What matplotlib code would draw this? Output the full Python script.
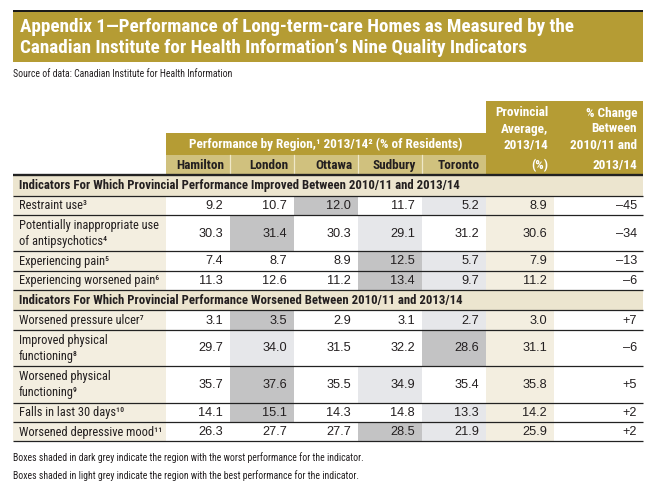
import matplotlib
matplotlib.use('Agg')
import matplotlib.pyplot as plt
from matplotlib import font_manager as fm
from matplotlib.patches import Rectangle

# ---------------- data ----------------
title_lines = ["Appendix 1\u2014Performance of Long-term-care Homes as Measured by the",
               "Canadian Institute for Health Information\u2019s Nine Quality Indicators"]
source_note = "Source of data: Canadian Institute for Health Information"
band_title = "Performance by Region,\u00b9 2013/14\u00b2 (% of Residents)"
regions = ["Hamilton", "London", "Ottawa", "Sudbury", "Toronto"]
prov_header = ["Provincial", "Average,", "2013/14", "(%)"]
change_header = ["% Change", "Between", "2010/11 and", "2013/14"]
section_titles = ["Indicators For Which Provincial Performance Improved Between 2010/11 and 2013/14",
                  "Indicators For Which Provincial Performance Worsened Between 2010/11 and 2013/14"]
indicators = ["Restraint use\u00b3",
              "Potentially inappropriate use\nof antipsychotics\u2074",
              "Experiencing pain\u2075",
              "Experiencing worsened pain\u2076",
              "Worsened pressure ulcer\u2077",
              "Improved physical\nfunctioning\u2078",
              "Worsened physical\nfunctioning\u2079",
              "Falls in last 30 days\u00b9\u2070",
              "Worsened depressive mood\u00b9\u00b9"]
indicator_section = [0, 0, 0, 0, 1, 1, 1, 1, 1]
hamilton = [9.2, 30.3, 7.4, 11.3, 3.1, 29.7, 35.7, 14.1, 26.3]
london = [10.7, 31.4, 8.7, 12.6, 3.5, 34.0, 37.6, 15.1, 27.7]
ottawa = [12.0, 30.3, 8.9, 11.2, 2.9, 31.5, 35.5, 14.3, 27.7]
sudbury = [11.7, 29.1, 12.5, 13.4, 3.1, 32.2, 34.9, 14.8, 28.5]
toronto = [5.2, 31.2, 5.7, 9.7, 2.7, 28.6, 35.4, 13.3, 21.9]
provincial = [8.9, 30.6, 7.9, 11.2, 3.0, 31.1, 35.8, 14.2, 25.9]
pct_change = [-45, -34, -13, -6, 7, -6, 5, 2, 2]
higher_is_better = [False, False, False, False, False, True, False, False, False]
footnotes = ["Boxes shaded in dark grey indicate the region with the worst performance for the indicator.",
             "Boxes shaded in light grey indicate the region with the best performance for the indicator."]

# ---------------- fonts ----------------
def pick_condensed():
    entries = fm.fontManager.ttflist
    names = {f.name for f in entries}
    for nm in ['Liberation Sans Narrow', 'Roboto Condensed', 'Open Sans Condensed',
               'Noto Sans Condensed', 'DejaVu Sans Condensed', 'Arial Narrow']:
        if nm in names:
            return nm, 'normal', True
    cond = [f for f in entries
            if f.stretch in ('condensed', 'semi-condensed', 'extra-condensed')
            or 'condensed' in f.fname.lower() or 'narrow' in f.fname.lower()]
    for pref in ['Liberation', 'Roboto', 'Noto Sans', 'Open Sans', 'DejaVu Sans']:
        for f in cond:
            if f.name.startswith(pref) and 'Mono' not in f.name and 'Serif' not in f.name:
                st = f.stretch if f.stretch != 'normal' else 'condensed'
                return f.name, st, True
    return 'Roboto', 'normal', False

NARROW, STRETCH, HAVE_COND = pick_condensed()
SZ = 1.0 if HAVE_COND else 0.86
FN = [NARROW, 'DejaVu Sans']
FW = ['Liberation Sans', 'DejaVu Sans']

def tn(x, y, s, size, **kw):
    ax.text(x, y, s, family=FN, fontstretch=STRETCH, fontsize=size * SZ, **kw)

# ---------------- colours ----------------
GOLD = '#b59c34'
GOLD_LIGHT = '#d0c17e'
CREAM = '#f3eee0'
CREAM_SEC = '#ece5cf'
DARK_GREY = '#c3c3c4'
LIGHT_GREY = '#e6e7ea'
TXT = '#231f20'

# ---------------- layout ----------------
W, H = 652, 492
fig = plt.figure(figsize=(W / 100, H / 100), dpi=100)
ax = fig.add_axes([0, 0, 1, 1])
ax.set_xlim(0, W)
ax.set_ylim(H, 0)
ax.axis('off')

X0, X1 = 13, 643
col_edges = [166, 230, 294, 358, 422, 486]
prov_edges = (486, 554)
chg_edges = (554, 643)
pad = 6

# title band
ax.add_patch(Rectangle((X0, 10), X1 - X0, 2.4, color='#1a1a1a', lw=0))
ax.add_patch(Rectangle((X0, 12.4), X1 - X0, 49.6, color=GOLD, lw=0))
tn(20, 27.5, title_lines[0], 13.8, ha='left', va='center', color='white', fontweight='bold')
tn(20, 48, title_lines[1], 13.8, ha='left', va='center', color='white', fontweight='bold')
tn(X0, 74, source_note, 7, ha='left', va='center', color=TXT)

# header block
hdr_top, band_bot, hdr_bot = 101, 155, 175
band_top = 133
ax.add_patch(Rectangle((col_edges[0], band_top), col_edges[-1] - col_edges[0],
                       band_bot - band_top, color=GOLD, lw=0))
ax.add_patch(Rectangle((col_edges[0], band_bot), col_edges[-1] - col_edges[0],
                       hdr_bot - band_bot, color=GOLD_LIGHT, lw=0))
ax.add_patch(Rectangle((prov_edges[0], hdr_top), chg_edges[1] - prov_edges[0],
                       hdr_bot - hdr_top, color=GOLD, lw=0))
tn((col_edges[0] + col_edges[-1]) / 2, (band_top + band_bot) / 2 + 0.5, band_title, 9.5,
   ha='center', va='center', color='white', fontweight='bold')
for i, r in enumerate(regions):
    tn(col_edges[i + 1] - pad, (band_bot + hdr_bot) / 2 + 0.5, r, 9.5, ha='right', va='center',
       color=TXT, fontweight='bold')
    if i > 0:
        ax.plot([col_edges[i], col_edges[i]], [band_bot, hdr_bot], color='#efe8c8', lw=0.9)
hdr_line_y = [113, 129, 145, 166]
for k in range(4):
    tn(prov_edges[1] - pad, hdr_line_y[k], prov_header[k], 9.5, ha='right', va='center',
       color='white', fontweight='bold')
    tn(chg_edges[1] - pad, hdr_line_y[k], change_header[k], 9.5, ha='right', va='center',
       color='white', fontweight='bold')

# table body
SEC_H, ROW1_H, ROW2_H = 20.5, 19.3, 36.5
region_vals = [hamilton, london, ottawa, sudbury, toronto]
y = hdr_bot
lines = [(y, 1.7)]
current_section = -1
for i, label in enumerate(indicators):
    if indicator_section[i] != current_section:
        current_section = indicator_section[i]
        ax.add_patch(Rectangle((X0, y), X1 - X0, SEC_H, color=CREAM_SEC, lw=0))
        tn(19, y + SEC_H / 2 + 0.5, section_titles[current_section], 9.2, ha='left', va='center',
           color=TXT, fontweight='bold')
        y += SEC_H
        lines.append((y, 0.9))
    h = ROW2_H if '\n' in label else ROW1_H
    cy = y + h / 2 + 0.5
    ax.add_patch(Rectangle((X0, y), col_edges[0] - X0, h, color=CREAM, lw=0))
    ax.add_patch(Rectangle((prov_edges[0], y), prov_edges[1] - prov_edges[0], h, color=CREAM, lw=0))
    vals = [rv[i] for rv in region_vals]
    if higher_is_better[i]:
        worst = vals.index(min(vals)); best = vals.index(max(vals))
    else:
        worst = vals.index(max(vals)); best = vals.index(min(vals))
    ax.add_patch(Rectangle((col_edges[worst], y), col_edges[worst + 1] - col_edges[worst], h,
                           color=DARK_GREY, lw=0))
    ax.add_patch(Rectangle((col_edges[best], y), col_edges[best + 1] - col_edges[best], h,
                           color=LIGHT_GREY, lw=0))
    tn(19, cy, label, 8.9, ha='left', va='center', color=TXT, linespacing=1.3)
    for j, v in enumerate(vals):
        ax.text(col_edges[j + 1] - pad - 1, cy, f"{v:.1f}", ha='right', va='center',
                color=TXT, fontsize=9.2, family=FW)
    ax.text(prov_edges[1] - pad - 1, cy, f"{provincial[i]:.1f}", ha='right', va='center',
            color=TXT, fontsize=9.2, family=FW)
    c = pct_change[i]
    ctxt = f"\u2013{abs(c)}" if c < 0 else f"+{c}"
    ax.text(chg_edges[1] - pad, cy, ctxt, ha='right', va='center', color=TXT, fontsize=9.2,
            family=FW)
    y += h
    lines.append((y, 0.9))

for ly, lw in lines:
    ax.plot([X0, X1], [ly, ly], color='#222222', lw=lw, solid_capstyle='butt')

tn(X0, 458, footnotes[0], 7, ha='left', va='center', color=TXT)
tn(X0, 476, footnotes[1], 7, ha='left', va='center', color=TXT)

fig.savefig('out.png', dpi=100)
